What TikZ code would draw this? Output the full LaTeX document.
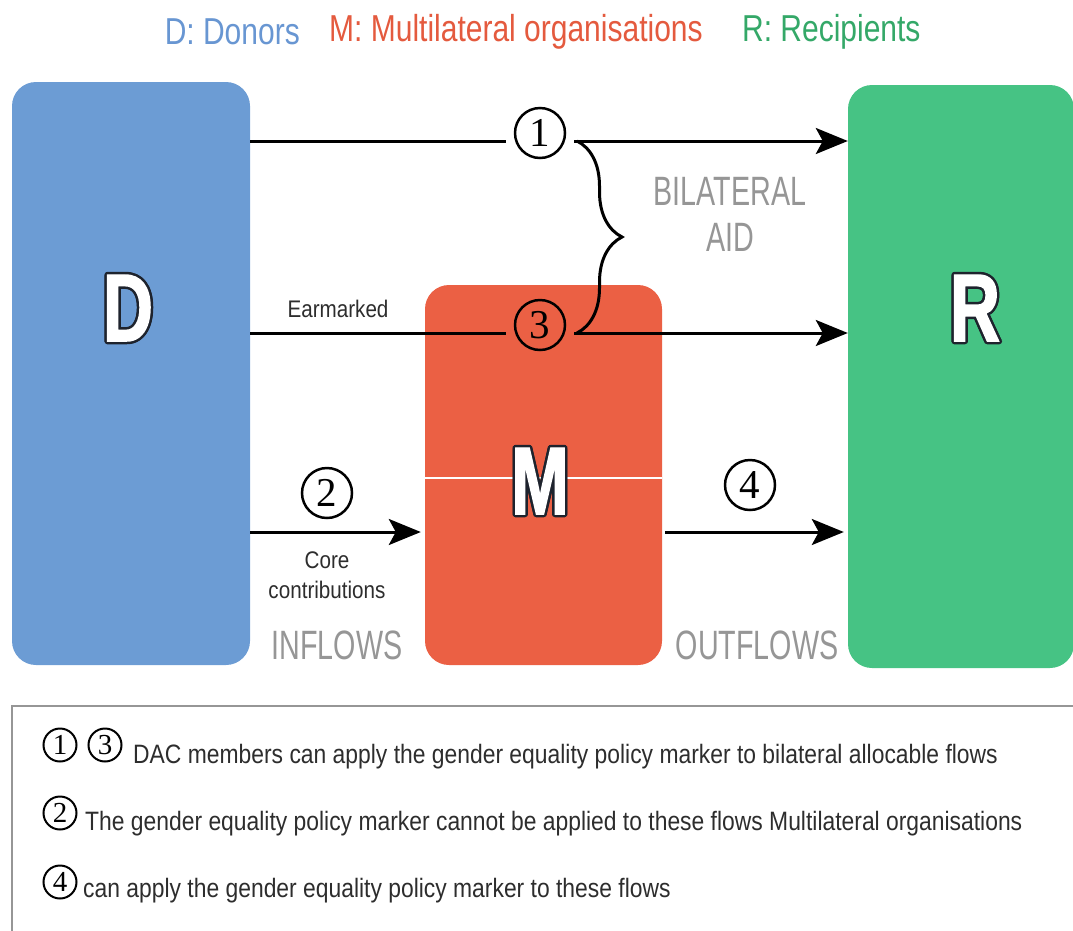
\documentclass[tikz,border=0pt]{standalone}
\usepackage{fontspec}
\setmainfont{Liberation Sans}[FakeStretch=0.86]
\newfontfamily\digitfont{Liberation Serif}
\newfontfamily\heavyfont{Liberation Sans}[FakeStretch=0.72, BoldFeatures={FakeBold=1.5}]
\newfontfamily\titlefont{Liberation Sans}[FakeStretch=0.8]
\newfontfamily\thinfont{Liberation Sans}[FakeStretch=0.7]
\usetikzlibrary{arrows.meta,decorations.pathreplacing,positioning}

\definecolor{donor}{RGB}{108,156,212}
\definecolor{multi}{RGB}{235,96,68}
\definecolor{recip}{RGB}{70,195,132}
\definecolor{donortxt}{RGB}{104,150,210}
\definecolor{multitxt}{RGB}{228,90,62}
\definecolor{reciptxt}{RGB}{52,168,104}
\definecolor{flowgray}{RGB}{150,150,150}
\definecolor{ink}{RGB}{45,45,45}
\definecolor{edge}{RGB}{30,35,45}

\begin{document}
\begin{tikzpicture}[x=1pt,y=-1pt,
    block/.style={rounded corners=24pt, inner sep=0pt},
    letter/.style={font=\heavyfont\fontsize{96}{96}\selectfont\bfseries, text=white, inner sep=0pt},
    num/.style={circle, draw, line width=2.5pt, inner sep=0pt, minimum size=50pt, outer sep=9pt,
                font=\digitfont\fontsize{41}{41}\selectfont},
    keynum/.style={circle, draw, line width=2pt, inner sep=0pt, minimum size=33pt,
                font=\digitfont\fontsize{29}{29}\selectfont},
    plain/.style={line width=3pt},
    flow/.style={line width=3pt, -{Stealth[length=32pt, width=26pt, inset=7pt]}},
    brace/.style={line width=3pt, decorate, decoration={brace, amplitude=45pt}},
    tag/.style={font=\fontsize{24}{30}\selectfont, text=ink, align=center, inner sep=0pt},
    side/.style={font=\thinfont\fontsize{41}{46}\selectfont, text=flowgray, align=center, inner sep=0pt},
    title/.style={font=\titlefont\fontsize{37.5}{37.5}\selectfont, inner sep=0pt},
    keytext/.style={font=\fontsize{26.6}{27}\selectfont, text=ink, anchor=base west, inner sep=0pt}]
  \useasboundingbox (0,0) rectangle (1073,930);

  % title line
  \node[title, text=multitxt, anchor=west] (ttl-m) at (329,32) {M: Multilateral organisations};
  \node[title, text=donortxt, left=29pt of ttl-m] (ttl-d) {D: Donors};
  \node[title, text=reciptxt, right=39pt of ttl-m] (ttl-r) {R: Recipients};

  % the three parties
  \node[block, fill=donor, minimum width=238pt, minimum height=583pt] (D) at (131,373.5) {};
  \node[block, fill=multi, minimum width=237pt, minimum height=380pt] (M) at (543.5,475) {};
  \node[block, fill=recip, minimum width=226pt, minimum height=583pt] (R) at (961,376.5) {};
  \coordinate (split) at (0,478);
  \draw[white, line width=1.6pt] (M.west |- split) -- (M.east |- split);

  % outlined capitals
  \foreach \l/\x/\y in {D/128/308, M/540/481, R/975/308} {
    \foreach \a in {0,30,...,330}
      \node[letter, text=edge] at ([shift={(\a:2.5)}]\x,\y) {\l};
    \node[letter] (\l-mark) at (\x,\y) {\l};
  }

  % numbered flows
  \node[num] (n1) at (540,133) {1};
  \node[num] (n3) at (540,325) {3};
  \node[num] (n2) at (327,493) {2};
  \node[num] (n4) at (750,485) {4};
  \coordinate (row1) at (0,141);
  \coordinate (row3) at (0,333);
  \coordinate (low) at (0,532);

  \draw[plain] (D.east |- row1) -- (n1.west |- row1);
  \draw[flow] (n1.east |- row1) -- (R.west |- row1);
  \draw[plain] (D.east |- row3) -- (n3.west |- row3);
  \draw[flow] (n3.east |- row3) -- (R.west |- row3);
  \draw[flow, shorten >=4pt] (D.east |- low) -- (M.west |- low);
  \draw[flow, shorten <=3pt, shorten >=4pt] (M.east |- low) -- (R.west |- low);

  \draw[brace] (577,141) -- (577,333);

  \node[tag, anchor=base] (earmark) at (338,317) {Earmarked};
  \node[tag] (core) at (327,575) {Core\\contributions};
  \node[side] (bilat) at (730,214) {BILATERAL\\AID};
  \node[side] (inflow) at (337,645) {INFLOWS};
  \node[side] (outflow) at (757,645) {OUTFLOWS};

  % key
  \draw[flowgray, line width=1.8pt] (1100,706) -- (12,706) -- (12,960);
  \foreach \k/\x/\y in {1/60/745, 3/105/745, 2/60/813, 4/60/882}
    \node[keynum] (k\k) at (\x,\y) {\k};
  \node[keytext] (key13) at (133,763) {DAC members can apply the gender equality policy marker to bilateral allocable flows};
  \node[keytext] (key2) at (85,830) {The gender equality policy marker cannot be applied to these flows Multilateral organisations};
  \node[keytext] (key4) at (83,897) {can apply the gender equality policy marker to these flows};
\end{tikzpicture}
\end{document}
